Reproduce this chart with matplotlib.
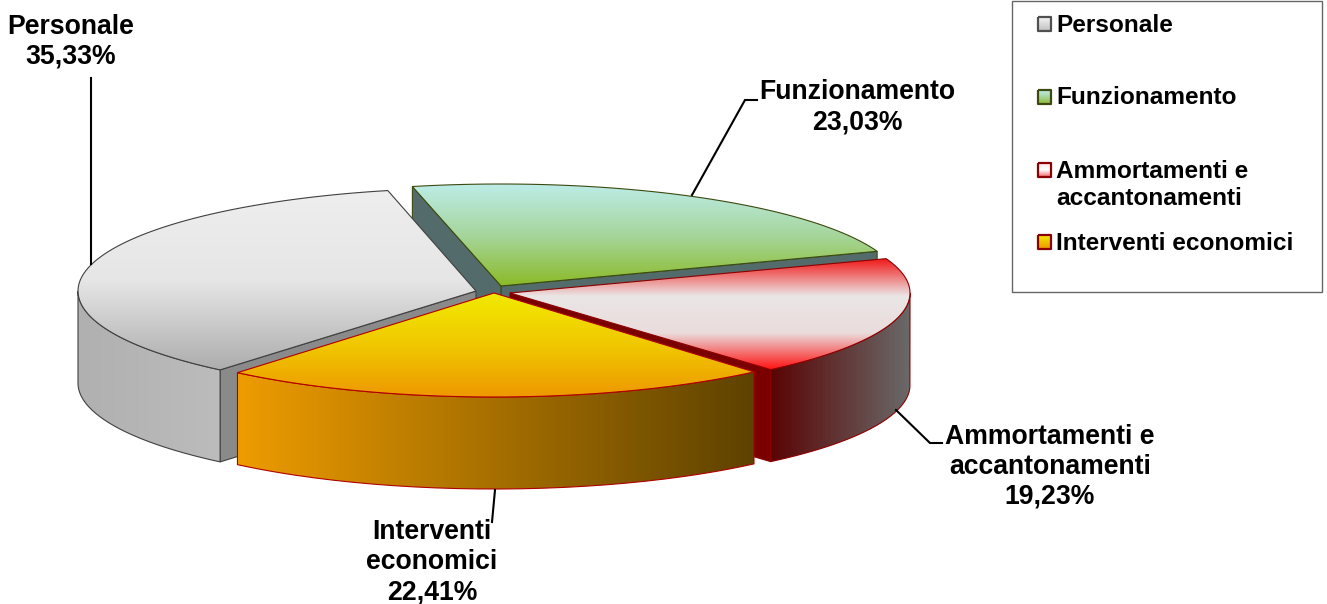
import numpy as np
import matplotlib
matplotlib.use("Agg")
import matplotlib.pyplot as plt
from matplotlib.colors import LinearSegmentedColormap
from matplotlib.patches import PathPatch, Rectangle
from matplotlib.path import Path

# ----------- DATA -------------
categories = ["Personale", "Funzionamento", "Ammortamenti e\naccantonamenti", "Interventi economici"]
label_names = ["Personale", "Funzionamento", "Ammortamenti e\naccantonamenti", "Interventi\neconomici"]
values = [35.33, 23.03, 19.23, 22.41]
# ------------------------------

plt.rcParams['font.family'] = ['Liberation Sans', 'DejaVu Sans']

W, H = 1327, 604
DEPTH = 92
START = 102.8

# slices run counter-clockwise: Personale, Interventi, Ammortamenti, Funzionamento
order = [0, 3, 2, 1]
apex = {0: (476, 291), 1: (501, 286), 2: (510, 293), 3: (494, 293)}
radii = {0: (398, 103), 1: (400, 102), 2: (400, 101), 3: (399, 104)}

top_stops = {
    0: ["#eeeeee", "#e6e6e6", "#adadad"],
    1: ["#bdece8", "#a6d69c", "#8bba28"],
    2: ["#f01c1c", "#ebe6e6", "#eadcdc", "#ff1010"],
    3: ["#f2ea00", "#f0c800", "#ee9800"],
}
side_stops = {
    0: ["#b0b0b0", "#bcbcbc"],
    1: ["#546b6b", "#546b6b"],
    2: ["#5a0404", "#6a6a6a"],
    3: ["#ee9c00", "#5e4200"],
}
radial_col = {0: "#8a8a8a", 1: "#546b6b", 2: "#7a0000", 3: "#ee9c00"}
edge_col = {0: "#404040", 1: "#3c4a10", 2: "#8b0000", 3: "#b00000"}

# angle spans come straight from the values
spans = {}
a = START
for i in order:
    spans[i] = (a, a + values[i] * 3.6)
    a += values[i] * 3.6


def rim(i, t0, t1, n=80):
    t = np.radians(np.linspace(t0, t1, n))
    cx, cy = apex[i]
    rx, ry = radii[i]
    return np.column_stack([cx + rx * np.cos(t), cy - ry * np.sin(t)])


def gradient_fill(ax, pts, stops, vertical, extent, z):
    """Fills a polygon with a linear gradient, extent = x0, x1, y0, y1."""
    cmap = LinearSegmentedColormap.from_list("g", stops)
    g = np.linspace(0, 1, 256)
    g = g[:, None] if vertical else g[None, :]
    x0, x1, y0, y1 = extent
    im = ax.imshow(g, cmap=cmap, extent=(x0, x1, y1, y0), aspect='auto',
                   origin='upper', zorder=z, interpolation='bilinear')
    poly = PathPatch(Path(np.vstack([pts, pts[0]])), transform=ax.transData)
    im.set_clip_path(poly)


def outline(ax, pts, color, z, lw=0.8):
    ax.add_patch(PathPatch(Path(np.vstack([pts, pts[0]])), fc='none', ec=color,
                           lw=lw, zorder=z, joinstyle='round'))


def radial_wall(ax, i, t, z):
    cx, cy = apex[i]
    p = rim(i, t, t, n=1)[0]
    wall = np.array([[cx, cy], p, p + [0, DEPTH], [cx, cy + DEPTH]])
    ax.add_patch(plt.Polygon(wall, fc=radial_col[i], ec=edge_col[i], lw=0.8, zorder=z))


def draw_slice(ax, i, z):
    t0, t1 = spans[i]
    cx, cy = apex[i]
    col = edge_col[i]

    # radial walls that can be seen from the front
    if i == 0:
        radial_wall(ax, i, t1, z)
    if i == 1:
        radial_wall(ax, i, t0, z)
        radial_wall(ax, i, t1, z)
    if i == 2:
        radial_wall(ax, i, t0, z)

    # outer wall, only the part below the horizon
    lo, hi = max(t0, 180), min(t1, 360)
    if hi > lo:
        up = rim(i, lo, hi)
        wall = np.vstack([up, (up + [0, DEPTH])[::-1]])
        ext = (wall[:, 0].min(), wall[:, 0].max(), wall[:, 1].min(), wall[:, 1].max())
        gradient_fill(ax, wall, side_stops[i], False, ext, z + 0.1)
        outline(ax, wall, col, z + 0.2)

    # top face
    top = np.vstack([[cx, cy], rim(i, t0, t1)])
    gradient_fill(ax, top, top_stops[i], True,
                  (top[:, 0].min(), top[:, 0].max(), top[:, 1].min(), top[:, 1].max()), z + 0.3)
    outline(ax, top, col, z + 0.4)


fig = plt.figure(figsize=(W / 100, H / 100), dpi=100)
ax = fig.add_axes([0, 0, 1, 1])

for z, i in enumerate([1, 0, 2, 3]):
    draw_slice(ax, i, z + 1)

# leader lines
leaders = [
    [(91, 264), (91, 78)],
    [(692, 195), (745, 100), (757, 100)],
    [(896, 410), (930, 443), (942, 443)],
    [(495, 490), (492, 522)],
]
for pts in leaders:
    xs, ys = zip(*pts)
    ax.plot(xs, ys, color='black', lw=1.5, zorder=10, solid_joinstyle='miter')

# data labels
label_pos = [(71, 42), (857, 107), (1050, 467), (432, 562)]
for name, v, (x, y) in zip(label_names, values, label_pos):
    txt = f"{name}\n{v:.2f}%".replace(".", ",")
    ax.text(x, y, txt, ha='center', va='center', fontsize=19.2, fontweight='bold',
            linespacing=1.2, zorder=11)

# legend box
ax.add_patch(Rectangle((1012, 1), 310, 291, fc='white', ec='#666666', lw=1.0, zorder=5))
legend_y = [24, 97, 170, 242]
legend_sw = [
    (["#f4f4f4", "#c0c0c0"], "#505050"),
    (["#bdece8", "#a6d69c", "#8bba28"], "#3c4a10"),
    (["#f8e8e8", "#ffffff", "#f06060"], "#8b0000"),
    (["#f2ea00", "#ee9800"], "#8b0000"),
]
for name, y, (stops, ec) in zip(categories, legend_y, legend_sw):
    box = np.array([[1038, y - 7], [1051, y - 7], [1051, y + 7], [1038, y + 7]], dtype=float)
    gradient_fill(ax, box, stops, True, (1038, 1051, y - 7, y + 7), 6)
    outline(ax, box, ec, 7, lw=1.6)
    ax.text(1056, y + 1 if "\n" not in name else y + 15, name, ha='left', va='center',
            fontsize=17.6, fontweight='bold', linespacing=1.2, zorder=8)

ax.set_xlim(0, W)
ax.set_ylim(H, 0)
ax.axis('off')
fig.savefig("out.png", dpi=100, facecolor='white')
